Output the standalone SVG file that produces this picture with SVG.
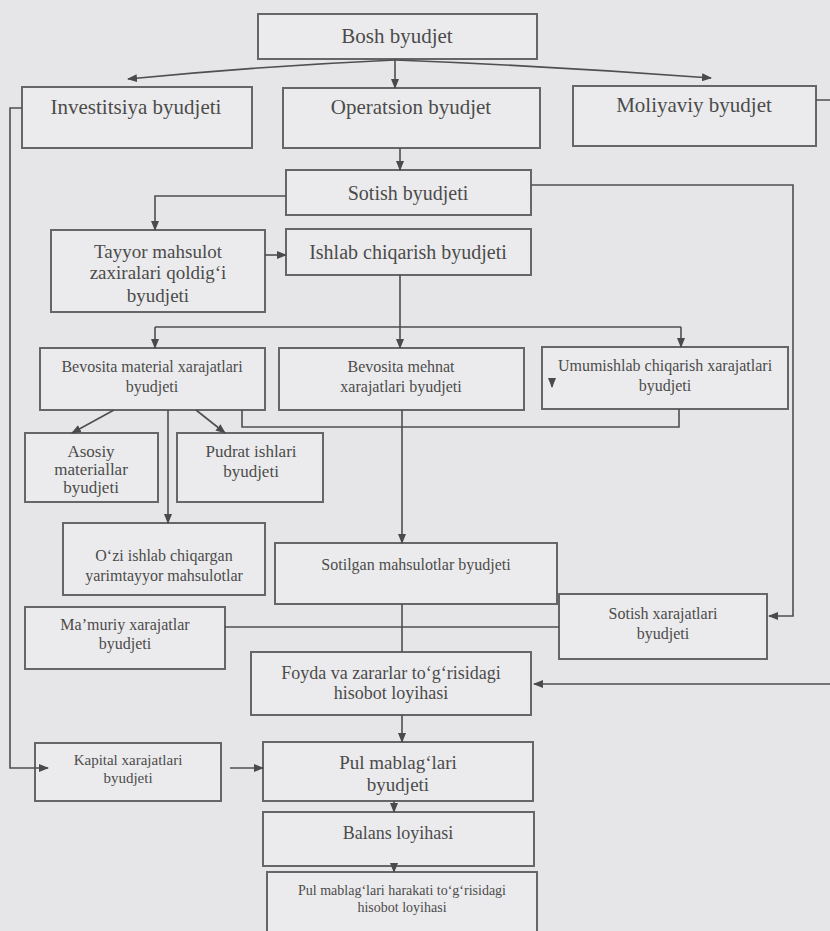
<svg xmlns="http://www.w3.org/2000/svg" width="830" height="931" viewBox="0 0 830 931">
  <defs>
    <marker id="arrow" markerUnits="userSpaceOnUse" markerWidth="10" markerHeight="8" refX="9" refY="4" orient="auto">
      <path d="M0,0 L10,4 L0,8 Z" fill="#4a4a4a"/>
    </marker>
    <style>
      .box { fill: #ebebed; stroke: #666; stroke-width: 2; }
      .lbl { font-family: "Liberation Serif", "Times New Roman", serif; fill: #4b4b4b; text-anchor: middle; }
      .wire { fill: none; stroke: #4f4f4f; stroke-width: 1.6; }
      .arr { marker-end: url(#arrow); }
    </style>
  </defs>

  <rect x="0" y="0" width="830" height="931" fill="#e6e6e8"/>

  <!-- nodes -->
  <g id="bosh">
    <rect class="box" x="258" y="14" width="279" height="45"/>
    <text class="lbl" x="397" y="43" font-size="21">Bosh byudjet</text>
  </g>
  <g id="investitsiya">
    <rect class="box" x="22" y="87" width="230" height="61"/>
    <text class="lbl" x="136" y="114" font-size="21">Investitsiya byudjeti</text>
  </g>
  <g id="operatsion">
    <rect class="box" x="283" y="88" width="257" height="60"/>
    <text class="lbl" x="411" y="114" font-size="21">Operatsion byudjet</text>
  </g>
  <g id="moliyaviy">
    <rect class="box" x="573" y="86" width="243" height="60"/>
    <text class="lbl" x="694" y="112" font-size="21">Moliyaviy byudjet</text>
  </g>
  <g id="sotish">
    <rect class="box" x="286" y="170" width="245" height="45"/>
    <text class="lbl" x="408" y="200" font-size="20">Sotish byudjeti</text>
  </g>
  <g id="tayyor">
    <rect class="box" x="51" y="230" width="214" height="82"/>
    <text class="lbl" x="158" y="258" font-size="19">Tayyor mahsulot</text>
    <text class="lbl" x="158" y="279" font-size="19">zaxiralari qoldig‘i</text>
    <text class="lbl" x="158" y="302" font-size="19">byudjeti</text>
  </g>
  <g id="ishlab">
    <rect class="box" x="286" y="229" width="245" height="46"/>
    <text class="lbl" x="408" y="259" font-size="20">Ishlab chiqarish byudjeti</text>
  </g>
  <g id="bevosita-material">
    <rect class="box" x="40" y="348" width="225" height="62"/>
    <text class="lbl" x="152" y="372" font-size="16">Bevosita material xarajatlari</text>
    <text class="lbl" x="152" y="392" font-size="16">byudjeti</text>
  </g>
  <g id="bevosita-mehnat">
    <rect class="box" x="279" y="348" width="245" height="62"/>
    <text class="lbl" x="401" y="372" font-size="16">Bevosita mehnat</text>
    <text class="lbl" x="401" y="392" font-size="16">xarajatlari byudjeti</text>
  </g>
  <g id="umumishlab">
    <rect class="box" x="542" y="347" width="246" height="62"/>
    <text class="lbl" x="665" y="371" font-size="16">Umumishlab chiqarish xarajatlari</text>
    <text class="lbl" x="665" y="391" font-size="16">byudjeti</text>
  </g>
  <g id="asosiy">
    <rect class="box" x="25" y="433" width="133" height="69"/>
    <text class="lbl" x="91" y="457" font-size="17">Asosiy</text>
    <text class="lbl" x="91" y="475" font-size="17">materiallar</text>
    <text class="lbl" x="91" y="493" font-size="17">byudjeti</text>
  </g>
  <g id="pudrat">
    <rect class="box" x="177" y="433" width="146" height="69"/>
    <text class="lbl" x="251" y="457" font-size="17">Pudrat ishlari</text>
    <text class="lbl" x="251" y="477" font-size="17">byudjeti</text>
  </g>
  <g id="ozi">
    <rect class="box" x="63" y="523" width="202" height="72"/>
    <text class="lbl" x="164" y="561" font-size="16">O‘zi ishlab chiqargan</text>
    <text class="lbl" x="164" y="581" font-size="16">yarimtayyor mahsulotlar</text>
  </g>
  <g id="sotilgan">
    <rect class="box" x="275" y="543" width="282" height="61"/>
    <text class="lbl" x="416" y="570" font-size="16">Sotilgan mahsulotlar byudjeti</text>
  </g>
  <g id="mamuriy">
    <rect class="box" x="25" y="607" width="200" height="62"/>
    <text class="lbl" x="125" y="630" font-size="16">Ma’muriy xarajatlar</text>
    <text class="lbl" x="125" y="649" font-size="16">byudjeti</text>
  </g>
  <g id="sotish-xarajatlari">
    <rect class="box" x="559" y="594" width="208" height="65"/>
    <text class="lbl" x="663" y="619" font-size="16">Sotish xarajatlari</text>
    <text class="lbl" x="663" y="639" font-size="16">byudjeti</text>
  </g>
  <g id="foyda">
    <rect class="box" x="251" y="652" width="280" height="63"/>
    <text class="lbl" x="391" y="679" font-size="18">Foyda va zararlar to‘g‘risidagi</text>
    <text class="lbl" x="391" y="699" font-size="18">hisobot loyihasi</text>
  </g>
  <g id="kapital">
    <rect class="box" x="35" y="743" width="186" height="58"/>
    <text class="lbl" x="128" y="765" font-size="15">Kapital xarajatlari</text>
    <text class="lbl" x="128" y="783" font-size="15">byudjeti</text>
  </g>
  <g id="pul">
    <rect class="box" x="263" y="742" width="270" height="59"/>
    <text class="lbl" x="398" y="769" font-size="19">Pul mablag‘lari</text>
    <text class="lbl" x="398" y="791" font-size="19">byudjeti</text>
  </g>
  <g id="balans">
    <rect class="box" x="263" y="812" width="271" height="54"/>
    <text class="lbl" x="398" y="839" font-size="18">Balans loyihasi</text>
  </g>
  <g id="harakat">
    <rect class="box" x="267" y="872" width="270" height="64"/>
    <text class="lbl" x="402" y="895" font-size="14">Pul mablag‘lari harakati to‘g‘risidagi</text>
    <text class="lbl" x="402" y="912" font-size="14">hisobot loyihasi</text>
  </g>

  <!-- connectors, drawn over the boxes so heads that end inside a box stay visible -->
  <g id="connectors">
    <path class="wire arr" d="M395,60 Q262,66 128,79"/>
    <path class="wire arr" d="M395,59 V88"/>
    <path class="wire arr" d="M395,60 Q552,66 711,78"/>
    <path class="wire arr" d="M22,108 H10 V768 H48"/>
    <path class="wire arr" d="M816,100 H836 V684 H534"/>
    <path class="wire arr" d="M400,148 V170"/>
    <path class="wire arr" d="M286,196 H155 V230"/>
    <path class="wire arr" d="M531,185 H793 V616 H769"/>
    <path class="wire arr" d="M265,255 H286"/>
    <path class="wire" d="M400,275 V327 M155,327 H681"/>
    <path class="wire arr" d="M155,327 V348"/>
    <path class="wire arr" d="M400,327 V348"/>
    <path class="wire arr" d="M681,327 V347"/>
    <path class="wire" d="M242,410 V427 H679 V409"/>
    <path class="wire arr" d="M114,410 L72,433"/>
    <path class="wire arr" d="M196,410 L225,433"/>
    <path class="wire arr" d="M168,410 V523"/>
    <path class="wire arr" d="M402,410 V543"/>
    <path class="wire arr" d="M552,378 V387"/>
    <path class="wire" d="M225,627 H559"/>
    <path class="wire" d="M402,604 V652"/>
    <path class="wire arr" d="M402,715 V742"/>
    <path class="wire arr" d="M230,768 H263"/>
    <path class="wire arr" d="M394,801 V812"/>
    <path class="wire arr" d="M394,866 V872"/>
  </g>
</svg>
